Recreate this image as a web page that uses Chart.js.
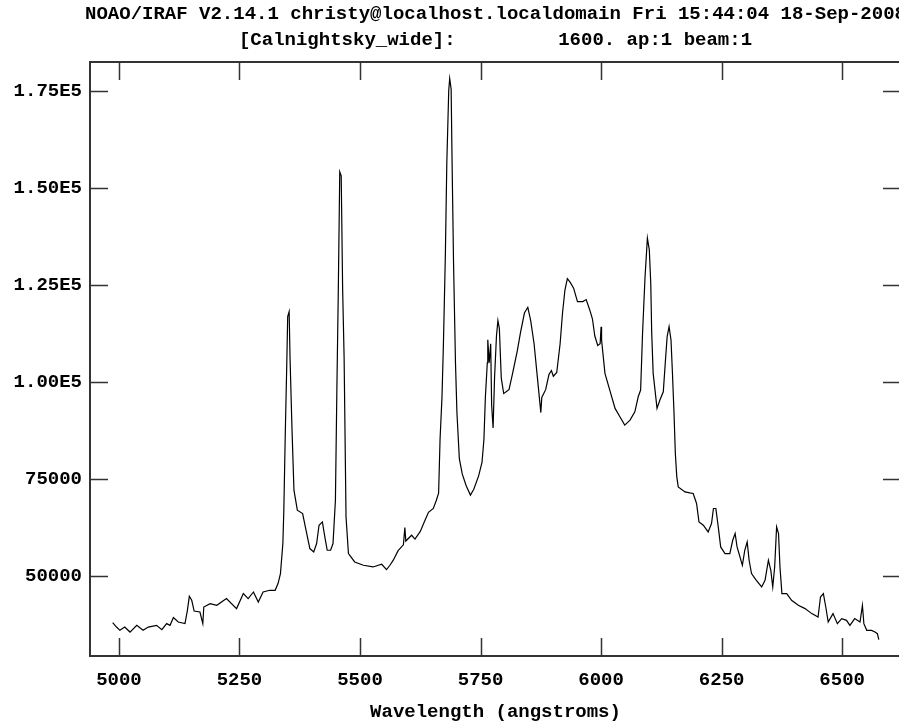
<!DOCTYPE html>
<html>
<head>
<meta charset="utf-8">
<script src="https://cdn.jsdelivr.net/npm/chart.js@4"></script>
<style>
  html, body { margin: 0; padding: 0; overflow: hidden; background: #fff; }
  canvas { display: block; }
</style>
</head>
<body>
<canvas id="specChart" width="991" height="725"></canvas>
<script>
// spectrum: wavelength (angstroms) and flux
const wavelengths = [
  4987, 4995, 5002, 5012, 5023, 5037, 5050, 5061, 5078, 5089, 5099, 5106, 5113, 5123, 5137, 5142,
  5146, 5151, 5156, 5168, 5174, 5176, 5189, 5203, 5223, 5244, 5258, 5268, 5279, 5289, 5299, 5313,
  5324, 5330, 5335, 5340, 5342, 5345, 5348, 5350, 5353, 5355, 5359, 5363, 5370, 5381, 5388, 5396,
  5404, 5410, 5415, 5422, 5427, 5432, 5439, 5444, 5449, 5452, 5455, 5458, 5461, 5464, 5467, 5471,
  5476, 5489, 5507, 5527, 5545, 5555, 5562, 5569, 5579, 5590, 5593, 5595, 5607, 5614, 5625, 5635,
  5642, 5652, 5658, 5663, 5666, 5670, 5673, 5677, 5680, 5684, 5686, 5689, 5691, 5694, 5698, 5701,
  5706, 5712, 5720, 5729, 5736, 5746, 5753, 5757, 5760, 5764, 5765, 5768, 5771, 5773, 5776, 5779,
  5783, 5786, 5789, 5793, 5798, 5809, 5816, 5826, 5833, 5841, 5848, 5854, 5861, 5868, 5875, 5877,
  5885, 5892, 5897, 5901, 5908, 5915, 5920, 5925, 5930, 5936, 5943, 5951, 5962, 5969, 5976, 5982,
  5987, 5993, 5998, 6000, 6001, 6008, 6018, 6029, 6039, 6049, 6060, 6070, 6077, 6082, 6086, 6091,
  6096, 6100, 6103, 6105, 6108, 6116, 6122, 6129, 6134, 6137, 6141, 6145, 6148, 6151, 6154, 6157,
  6160, 6174, 6184, 6191, 6198, 6203, 6212, 6222, 6229, 6233, 6238, 6243, 6248, 6257, 6267, 6273,
  6278, 6282, 6288, 6293, 6298, 6303, 6307, 6312, 6322, 6333, 6340, 6347, 6352, 6356, 6360, 6364,
  6368, 6371, 6375, 6385, 6395, 6409, 6423, 6437, 6450, 6455, 6461, 6466, 6471, 6481, 6490, 6499,
  6509, 6516, 6526, 6537, 6542, 6545, 6551, 6561, 6568, 6573, 6576
];
const flux = [
  37970, 36830, 35980, 36830, 35540, 37270, 35980, 36830, 37270, 36160, 37710, 37270, 39260, 38120, 37710, 41140,
  44750, 43720, 40960, 40700, 37710, 41990, 42870, 42430, 44160, 41580, 45450, 44160, 45860, 43280, 45860, 46300,
  46300, 48030, 50610, 58340, 66930, 86710, 103890, 116790, 118080, 105620, 87560, 72090, 66930, 66080, 61770, 57050,
  56180, 58340, 63060, 63910, 60050, 56610, 56610, 58340, 69510, 97880, 123670, 154110, 153080, 123670, 106470, 65200,
  55760, 53600, 52750, 52310, 53000, 51640, 52750, 54060, 56510, 58010, 62440, 58990, 60480, 59480, 61460, 64400,
  66390, 67370, 69360, 71320, 85140, 96000, 109820, 132520, 156250, 175000, 178150, 175460, 156250, 130560, 104900, 92080,
  80210, 76270, 73300, 70820, 72320, 75780, 79230, 85140, 96000, 104900, 110830, 104900, 109820, 94010, 88110, 100950,
  111810, 115760, 113770, 100950, 97000, 97990, 101930, 107860, 112790, 117720, 119210, 115760, 109820, 100950, 92080, 96000,
  97990, 101930, 102910, 101440, 102420, 109820, 117720, 123650, 126610, 125630, 124140, 120680, 120680, 121200, 118720, 116250,
  111810, 109360, 109820, 114210, 110780, 102190, 97880, 93160, 90990, 88860, 90140, 92280, 96150, 97880, 112510, 126690,
  137010, 133990, 125400, 112510, 102190, 93160, 95300, 97440, 106470, 111630, 114210, 110780, 102190, 92720, 81560, 75520,
  72940, 71650, 71390, 71240, 68660, 63910, 63060, 61330, 63500, 67370, 67370, 62620, 57470, 55760, 55760, 59190,
  60920, 57470, 54890, 52750, 56610, 58750, 54040, 50610, 48880, 47150, 48880, 54040, 51460, 47150, 52310, 62620,
  60920, 52310, 45450, 45450, 43720, 42430, 41580, 40290, 39410, 44570, 45450, 41990, 38120, 40290, 37710, 39000,
  38560, 37270, 39000, 38120, 42430, 37710, 35980, 35980, 35540, 35130, 33580
];

const xTickValues = [5000, 5250, 5500, 5750, 6000, 6250, 6500];
const yTickValues = [50000, 75000, 100000, 125000, 150000, 175000];
const yTickLabels = ['50000', '75000', '1.00E5', '1.25E5', '1.50E5', '1.75E5'];

const titleLines = [
  'NOAO/IRAF V2.14.1 christy@localhost.localdomain Fri 15:44:04 18-Sep-2008',
  '[Calnightsky_wide]:         1600. ap:1 beam:1'
];
const xTitle = 'Wavelength (angstroms)';

const FONT = 'Liberation Mono';
const INK = '#000';
const FRAME = '#333';

// frame plus inward tick marks on all four sides
const iraFrame = {
  id: 'iraFrame',
  afterDraw(chart) {
    const { ctx, chartArea: a, scales: { x, y } } = chart;
    const len = 18;
    ctx.save();
    ctx.strokeStyle = FRAME;
    ctx.lineWidth = 1.5;
    ctx.beginPath();
    x.ticks.forEach(t => {
      const px = Math.round(x.getPixelForValue(t.value)) + 0.5;
      ctx.moveTo(px, a.top); ctx.lineTo(px, a.top + len);
      ctx.moveTo(px, a.bottom); ctx.lineTo(px, a.bottom - len);
    });
    y.ticks.forEach(t => {
      const py = Math.round(y.getPixelForValue(t.value)) + 0.5;
      ctx.moveTo(a.left, py); ctx.lineTo(a.left + len, py);
      ctx.moveTo(a.right, py); ctx.lineTo(a.right - len, py);
    });
    ctx.stroke();
    ctx.lineWidth = 2;
    ctx.strokeRect(a.left, a.top, a.right - a.left, a.bottom - a.top);
    ctx.restore();
  }
};

const ctx = document.getElementById('specChart').getContext('2d');
new Chart(ctx, {
  type: 'line',
  data: {
    datasets: [{
      data: wavelengths.map((w, i) => ({ x: w, y: flux[i] })),
      borderColor: INK,
      borderWidth: 1.2,
      pointRadius: 0,
      tension: 0,
      fill: false
    }]
  },
  options: {
    responsive: false,
    animation: false,
    layout: { padding: 0 },
    plugins: {
      legend: { display: false },
      tooltip: { enabled: false },
      title: {
        display: true,
        text: titleLines,
        color: INK,
        font: { family: FONT, size: 19, weight: 'bold', lineHeight: 26 / 19 },
        padding: { top: 1, bottom: 9 }
      }
    },
    scales: {
      x: {
        type: 'linear',
        min: 4940,
        max: 6622,
        grid: { display: false, drawTicks: false },
        border: { display: false },
        afterBuildTicks: s => { s.ticks = xTickValues.map(v => ({ value: v })); },
        afterFit: s => { s.height = 69; },
        ticks: {
          color: INK,
          padding: 13,
          maxRotation: 0,
          font: { family: FONT, size: 19, weight: 'bold' },
          callback: v => String(v)
        },
        title: {
          display: true,
          text: xTitle,
          color: INK,
          font: { family: FONT, size: 19, weight: 'bold', lineHeight: 1.2 },
          padding: { top: 0, bottom: 1 }
        }
      },
      y: {
        type: 'linear',
        min: 29370,
        max: 182400,
        grid: { display: false, drawTicks: false },
        border: { display: false },
        afterBuildTicks: s => { s.ticks = yTickValues.map(v => ({ value: v })); },
        afterFit: s => { s.width = 90; },
        ticks: {
          color: INK,
          padding: 8,
          font: { family: FONT, size: 19, weight: 'bold' },
          callback: v => yTickLabels[yTickValues.indexOf(v)]
        }
      },
      // empty right-hand axis: reserves the margin so the frame lands where it does in the plot
      yRight: {
        type: 'linear',
        position: 'right',
        min: 29370,
        max: 182400,
        grid: { display: false, drawTicks: false },
        border: { display: false },
        ticks: { display: false },
        afterFit: s => { s.width = 90; }
      }
    }
  },
  plugins: [iraFrame]
});
</script>
</body>
</html>
